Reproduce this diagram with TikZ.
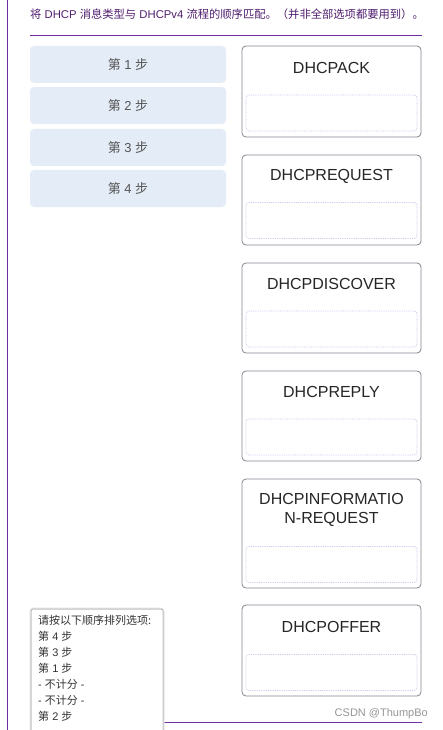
\documentclass[tikz,border=0pt]{standalone}
\usepackage{fontspec}
\setmainfont{Liberation Sans}
\newfontfamily\zh{Noto Sans CJK SC}
\definecolor{purp}{RGB}{112,48,160}
\definecolor{ttxt}{RGB}{80,30,110}
\definecolor{stepfill}{RGB}{228,236,247}
\definecolor{steptxt}{RGB}{85,85,85}
\definecolor{cardline}{RGB}{128,134,142}
\definecolor{dropline}{RGB}{205,195,238}
\definecolor{wm}{RGB}{150,150,150}
\begin{document}
\begin{tikzpicture}[x=1pt,y=-1pt,
  stepbox/.style={fill=stepfill,rounded corners=4pt,minimum width=196pt,minimum height=37pt,inner sep=0pt,text=steptxt,font=\fontsize{13}{15}\selectfont},
  card/.style={draw=cardline,line width=0.8pt,rounded corners=4pt,fill=white},
  cardtitle/.style={text=black!85,font=\fontsize{16}{20}\selectfont,align=center,inner sep=0pt},
  dropbox/.style={draw=dropline,densely dotted,line width=0.8pt,rounded corners=3pt,minimum width=171pt,minimum height=36pt,inner sep=0pt},
  popuptxt/.style={text=black!80,font=\fontsize{11}{16}\selectfont,align=left,inner sep=0pt,anchor=north west}
]
\useasboundingbox (0,0) rectangle (443,730);
\fill[white] (0,0) rectangle (443,730);
% frame lines
\coordinate (vl1) at (7,0); \coordinate (vl2) at (7,730);
\draw[purp,line width=0.9pt] (vl1) -- (vl2);
\coordinate (hl1) at (30,35.5); \coordinate (hl2) at (422,35.5);
\draw[purp,line width=0.9pt] (hl1) -- (hl2);
\coordinate (bl1) at (30,722); \coordinate (bl2) at (422,722);
\draw[purp,line width=0.9pt] (bl1) -- (bl2);
% title
\node[anchor=west,inner sep=0pt,text=ttxt,font=\fontsize{11.3}{13}\selectfont] (title) at (30,14)
  {{\zh 将} DHCP {\zh 消息类型与} DHCPv4 {\zh 流程的顺序匹配。（并非全部选项都要用到）。}};
% steps
\node[stepbox] (s1) at (128,64.5) {{\zh 第} 1 {\zh 步}};
\node[stepbox] (s2) at (128,105.5) {{\zh 第} 2 {\zh 步}};
\node[stepbox] (s3) at (128,147.5) {{\zh 第} 3 {\zh 步}};
\node[stepbox] (s4) at (128,188.5) {{\zh 第} 4 {\zh 步}};
% cards
\newcommand{\mycard}[6]{%
  \draw[card] (242,#2) rectangle (421,#3);
  \node[cardtitle] (t#1) at (331.5,#4) {#6};
  \node[dropbox] (d#1) at (331.5,#5) {};
}
\mycard{1}{46}{137}{68}{113}{DHCPACK}
\mycard{2}{155}{245}{176}{220.5}{DHCPREQUEST}
\mycard{3}{263}{353}{284}{329}{DHCPDISCOVER}
\mycard{4}{371}{461}{392}{437}{DHCPREPLY}
\mycard{5}{479}{588}{510}{564.5}{DHCPINFORMATIO\\[-1pt]N-REQUEST}
\mycard{6}{605}{696}{627}{672.5}{DHCPOFFER}
% watermark
\node[anchor=east,inner sep=0pt,text=wm,font=\fontsize{11}{13}\selectfont] (wm) at (428,714) {CSDN @ThumpBo};
% popup
\draw[black!10,line width=3pt,rounded corners=3pt] (31,609) rectangle (163,740);
\draw[black!25,line width=1pt,fill=white,rounded corners=2pt] (31,609) rectangle (163,740);
\node[popuptxt] (pop) at (38,614.5) {{\zh 请按以下顺序排列选项:}\\
{\zh 第} 4 {\zh 步}\\
{\zh 第} 3 {\zh 步}\\
{\zh 第} 1 {\zh 步}\\
- {\zh 不计分} -\\
- {\zh 不计分} -\\
{\zh 第} 2 {\zh 步}};
\end{tikzpicture}
\end{document}
